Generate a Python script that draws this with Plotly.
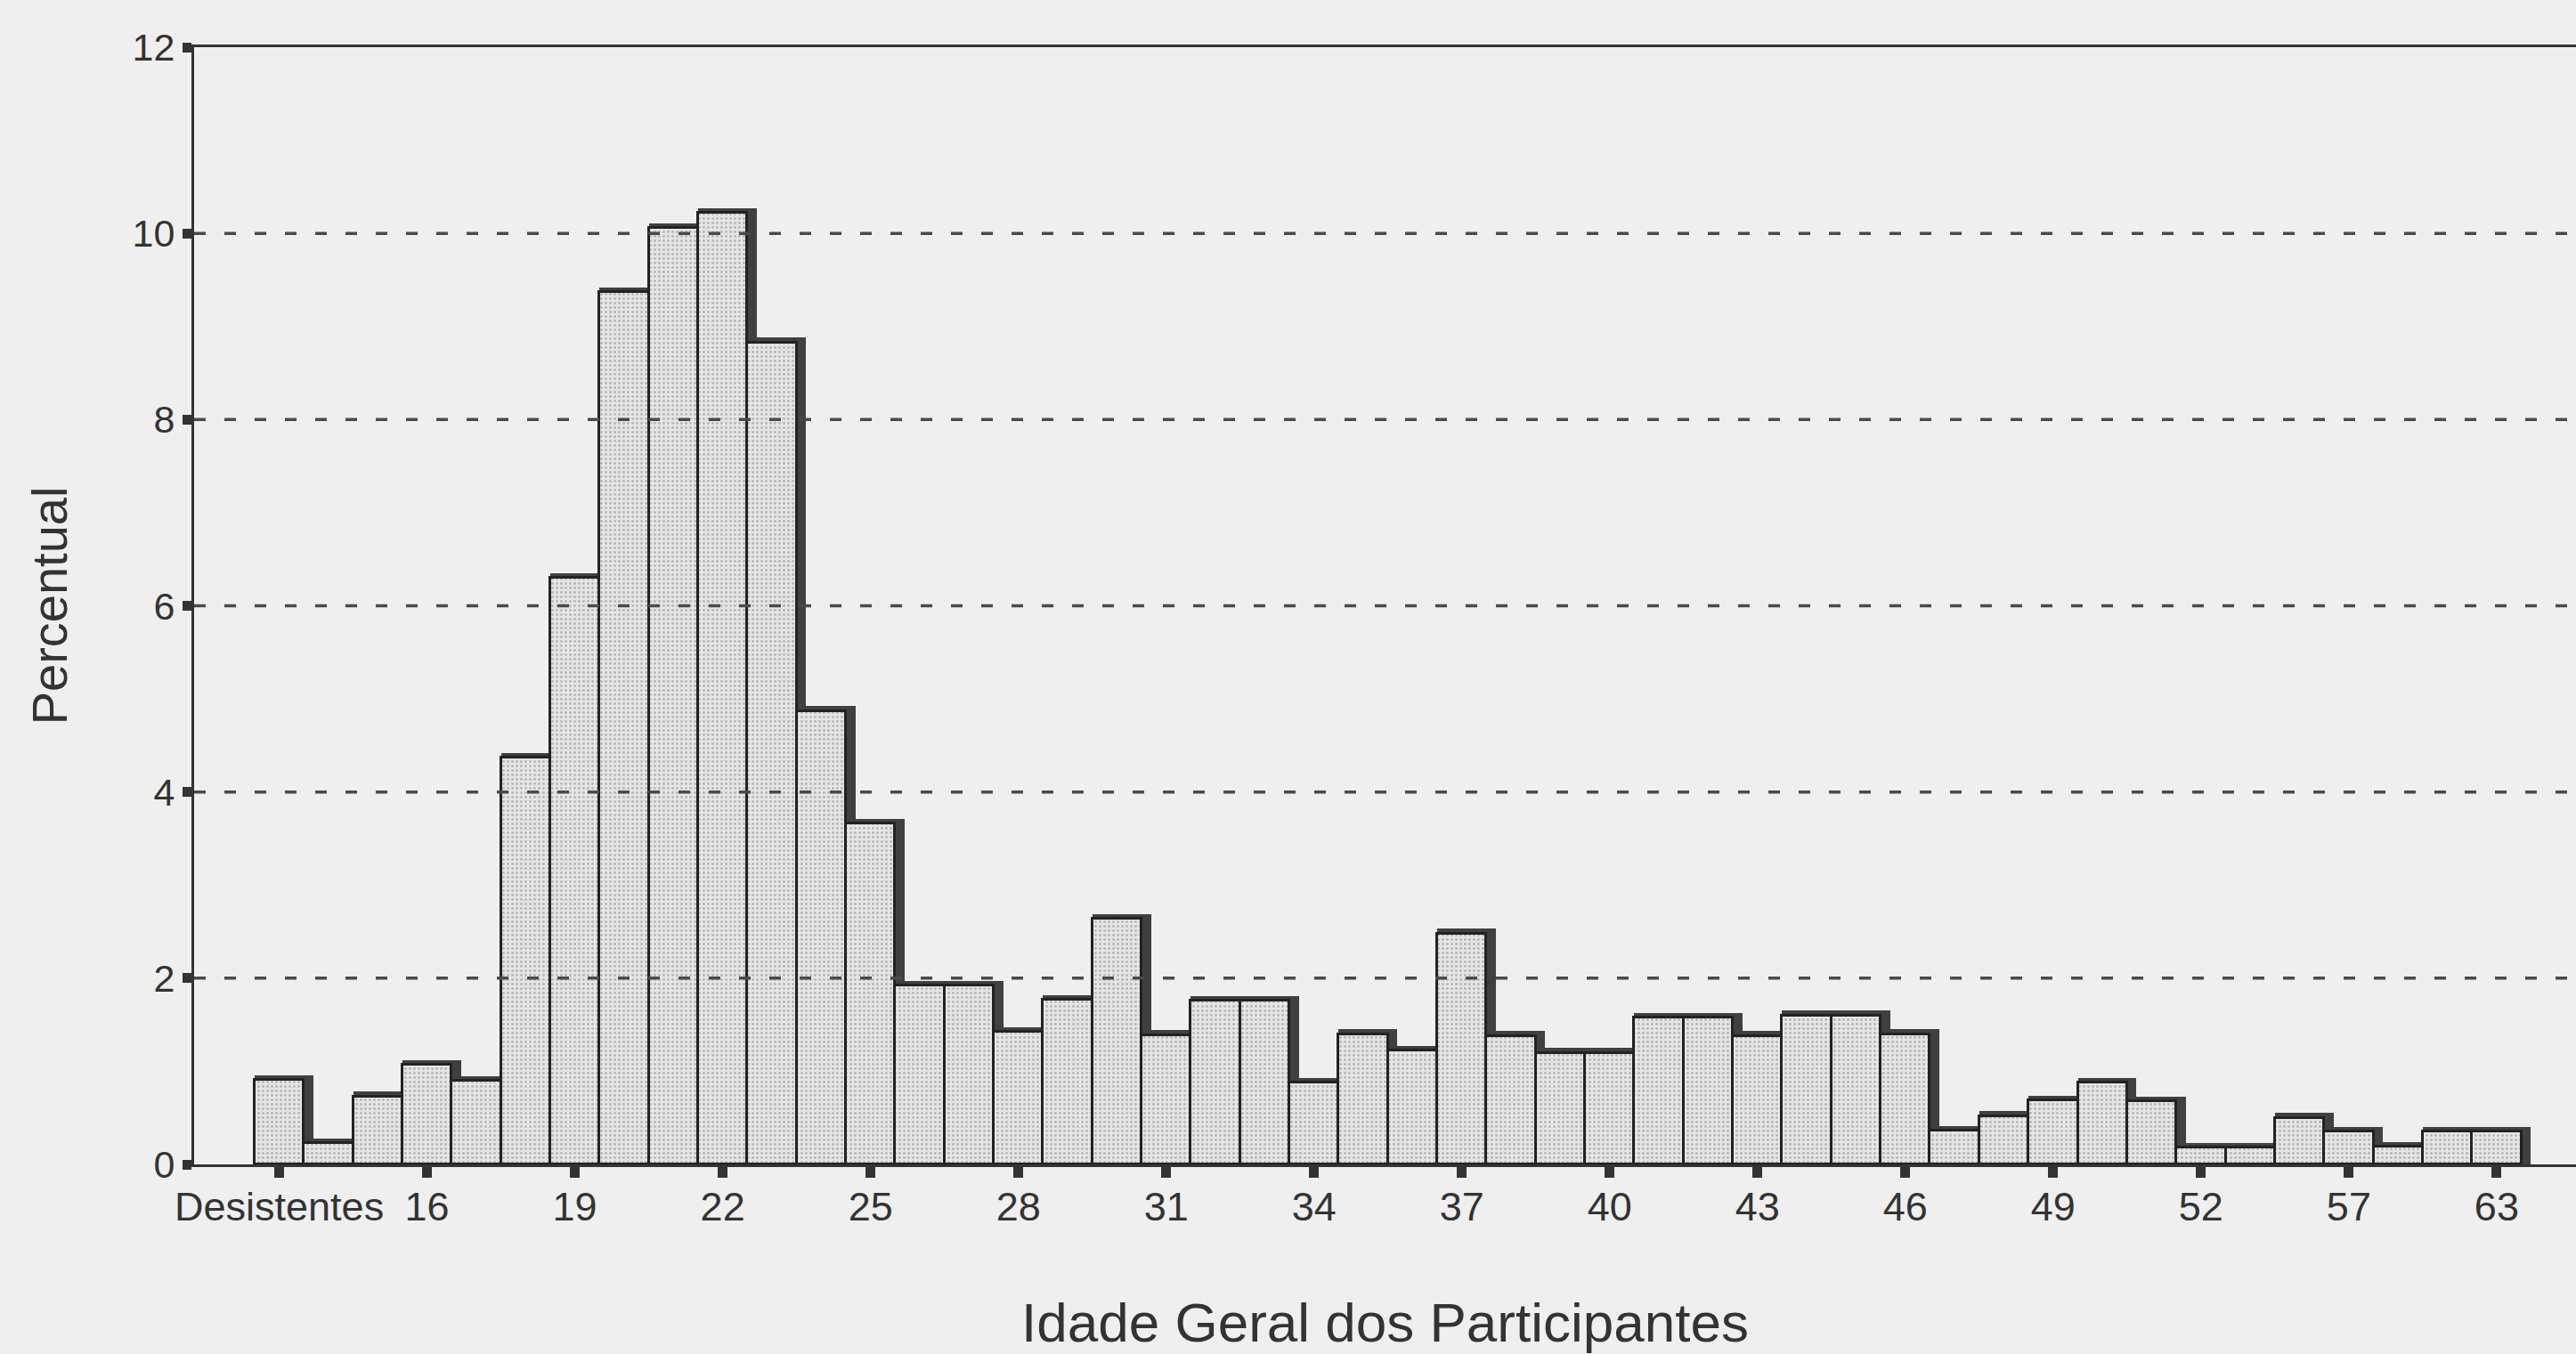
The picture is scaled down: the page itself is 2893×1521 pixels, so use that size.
import plotly.graph_objects as go

# ---- data ----
categories = ["Desistentes", "14", "15", "16", "17", "18", "19", "20", "21", "22",
              "23", "24", "25", "26", "27", "28", "29", "30", "31", "32",
              "33", "34", "35", "36", "37", "38", "39", "40", "41", "42",
              "43", "44", "45", "46", "47", "48", "49", "50", "51", "52",
              "54", "56", "57", "58", "60", "63"]
percentages = [0.91, 0.23, 0.73, 1.07, 0.90, 4.37, 6.30, 9.37, 10.06, 10.22,
               8.83, 4.87, 3.66, 1.92, 1.92, 1.42, 1.77, 2.64, 1.39, 1.76,
               1.76, 0.88, 1.40, 1.22, 2.48, 1.38, 1.20, 1.20, 1.58, 1.58,
               1.38, 1.60, 1.60, 1.40, 0.36, 0.52, 0.69, 0.88, 0.68, 0.18,
               0.18, 0.50, 0.35, 0.19, 0.35, 0.35]
x_tick_labels = ["Desistentes", "16", "19", "22", "25", "28", "31", "34", "37",
                 "40", "43", "46", "49", "52", "57", "63"]
y_tick_values = [0, 2, 4, 6, 8, 10, 12]
grid_values = [2, 4, 6, 8, 10]

# ---- styling ----
BG = "#efefef"
INK = "#333333"
FONT = "Liberation Sans, Arial, Helvetica, sans-serif"
shadow_dy = 0.05     # shadow rises slightly above each bar
shadow_extra = 0.19  # shadow extends to the right of each bar

fig = go.Figure()

# dark drop-shadow behind bars
fig.add_trace(go.Bar(
    x=categories,
    y=[v + shadow_dy for v in percentages],
    width=1.0 + shadow_extra,
    offset=-0.5,
    marker=dict(color="#404040", line=dict(width=0)),
    hoverinfo="skip",
))

# stippled bars
fig.add_trace(go.Bar(
    x=categories,
    y=percentages,
    width=1.0,
    offset=-0.5,
    marker=dict(
        color="#e3e3e3",
        pattern=dict(shape=".", fgcolor="#888888", bgcolor="#e5e5e5",
                     size=5, solidity=0.28),
        line=dict(color="#222222", width=3),
    ),
))

for g in grid_values:
    fig.add_shape(type="line", xref="paper", x0=0, x1=1, yref="y", y0=g, y1=g,
                  line=dict(color="#4a4a4a", width=3.5, dash="13px,21px"),
                  layer="above")

fig.update_layout(
    width=2893, height=1521,
    margin=dict(l=218, r=0, t=53, b=213),
    paper_bgcolor=BG, plot_bgcolor=BG,
    barmode="overlay", bargap=0,
    showlegend=False,
    font=dict(family=FONT, color=INK),
    xaxis=dict(
        type="category",
        categoryorder="array", categoryarray=categories,
        range=[-1.727, 46.61],
        tickmode="array", tickvals=x_tick_labels, ticktext=x_tick_labels,
        ticks="outside", ticklen=12, tickwidth=11, tickcolor=INK,
        ticklabelstandoff=-6,
        tickfont=dict(size=45, color=INK, family=FONT),
        showline=True, linecolor=INK, linewidth=3, mirror=True,
        showgrid=False, zeroline=False,
        title=dict(text="Idade Geral dos Participantes",
                   font=dict(size=62, color=INK, family=FONT), standoff=84),
        automargin=False,
    ),
    yaxis=dict(
        range=[0, 12],
        tickmode="array", tickvals=y_tick_values,
        ticks="outside", ticklen=10, tickwidth=11, tickcolor=INK,
        tickfont=dict(size=43, color=INK, family=FONT),
        showline=True, linecolor=INK, linewidth=3,
        showgrid=False, zeroline=False,
        title=dict(text="Percentual",
                   font=dict(size=56, color=INK, family=FONT), standoff=55),
        automargin=False,
    ),
)

fig.write_html("out.html",
               config={"displayModeBar": False},
               post_script="document.body.style.margin='0';document.body.style.overflow='hidden';")
